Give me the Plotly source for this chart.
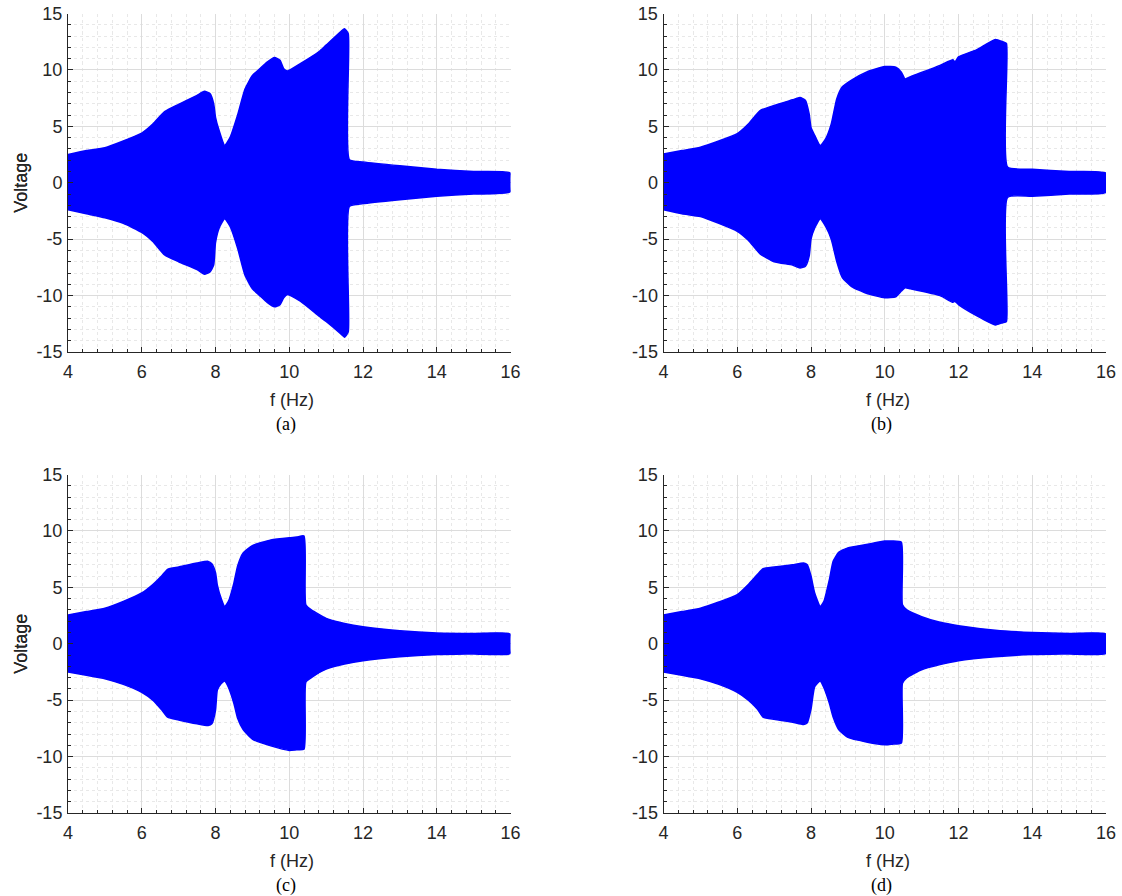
import plotly.graph_objects as go

# ---------------- data ----------------
freq_a = [4.0, 4.5, 5.0, 5.5, 6.0, 6.3, 6.62, 7.0, 7.5, 7.7, 7.85, 7.95, 8.0, 8.1, 8.25,
          8.4, 8.6, 8.8, 9.0, 9.2, 9.4, 9.6, 9.75, 9.85, 9.95, 10.3, 10.8, 11.0, 11.4, 11.5,
          11.6, 11.63, 12.0, 13.0, 14.0, 15.0, 16.0]
upper_a = [2.5, 2.85, 3.1, 3.7, 4.4, 5.2, 6.3, 6.95, 7.75, 8.1, 7.9, 7.0, 5.8, 4.6, 3.3,
           4.05, 6.0, 8.3, 9.5, 10.1, 10.7, 11.1, 10.85, 10.1, 9.9, 10.55, 11.6, 12.2, 13.4, 13.65,
           13.2, 2.05, 1.85, 1.5, 1.2, 1.0, 0.85]
lower_a = [-2.4, -2.75, -3.1, -3.6, -4.4, -5.2, -6.4, -7.0, -7.7, -8.1, -7.9, -7.3, -5.3, -4.0, -3.2,
           -3.9, -5.8, -8.2, -9.4, -10.0, -10.6, -11.0, -10.8, -10.2, -9.9, -10.5, -11.8, -12.3, -13.4, -13.7,
           -13.2, -2.1, -1.85, -1.5, -1.2, -1.0, -0.8]

freq_b = [4.0, 4.5, 5.0, 5.5, 6.0, 6.3, 6.62, 7.0, 7.5, 7.7, 7.85, 7.95, 8.0, 8.1, 8.25,
          8.4, 8.55, 8.7, 8.85, 9.1, 9.5, 10.0, 10.3, 10.45, 10.55, 10.7, 11.5, 11.85, 11.9, 12.0,
          12.5, 13.0, 13.2, 13.3, 13.33, 14.0, 15.0, 16.0]
upper_b = [2.55, 2.85, 3.15, 3.7, 4.35, 5.2, 6.4, 6.85, 7.35, 7.55, 7.3, 6.1, 4.9, 4.2, 3.3,
           3.9, 5.2, 7.45, 8.5, 9.1, 9.8, 10.3, 10.25, 9.8, 9.2, 9.4, 10.4, 10.9, 10.7, 11.15,
           11.8, 12.7, 12.5, 12.35, 1.4, 1.2, 1.0, 0.85]
lower_b = [-2.4, -2.75, -3.0, -3.6, -4.3, -5.1, -6.3, -7.0, -7.3, -7.55, -7.4, -6.5, -5.0, -4.0, -3.2,
           -3.9, -5.0, -7.0, -8.4, -9.2, -9.8, -10.2, -10.1, -9.6, -9.3, -9.4, -10.0, -10.6, -10.5, -10.8,
           -11.8, -12.6, -12.4, -12.3, -1.3, -1.2, -1.0, -0.85]

freq_c = [4.0, 4.5, 5.0, 5.5, 6.0, 6.3, 6.55, 6.7, 7.0, 7.5, 7.8, 7.9, 8.0, 8.05, 8.15,
          8.25, 8.35, 8.5, 8.6, 8.75, 9.0, 9.5, 10.0, 10.2, 10.4, 10.45, 10.6, 11.0, 11.5, 12.0,
          13.0, 14.0, 15.0, 16.0]
upper_c = [2.55, 2.85, 3.15, 3.75, 4.5, 5.25, 6.05, 6.6, 6.8, 7.15, 7.3, 7.1, 6.3, 5.2, 4.05,
           3.3, 3.75, 5.4, 6.9, 8.05, 8.7, 9.2, 9.4, 9.45, 9.55, 3.45, 3.0, 2.25, 1.8, 1.5,
           1.15, 0.95, 0.9, 0.85]
lower_c = [-2.5, -2.8, -3.1, -3.6, -4.3, -5.0, -5.9, -6.5, -6.75, -7.1, -7.25, -7.1, -5.9, -4.1, -3.55,
           -3.3, -3.85, -5.3, -6.6, -7.6, -8.45, -9.05, -9.45, -9.4, -9.35, -3.4, -3.0, -2.25, -1.8, -1.5,
           -1.15, -0.95, -0.9, -0.85]

freq_d = [4.0, 4.5, 5.0, 5.5, 6.0, 6.3, 6.55, 6.7, 7.0, 7.5, 7.8, 7.9, 8.0, 8.1, 8.25,
          8.35, 8.5, 8.6, 8.75, 9.0, 9.5, 10.0, 10.2, 10.45, 10.48, 10.6, 11.0, 11.5, 12.0, 13.0,
          14.0, 15.0, 16.0]
upper_d = [2.55, 2.85, 3.15, 3.7, 4.35, 5.25, 6.15, 6.65, 6.8, 7.0, 7.15, 7.0, 6.0, 4.5, 3.3,
           3.75, 5.7, 7.3, 8.1, 8.5, 8.8, 9.1, 9.1, 9.0, 3.45, 3.0, 2.4, 1.9, 1.6, 1.2,
           1.0, 0.9, 0.85]
lower_d = [-2.5, -2.8, -3.1, -3.6, -4.3, -5.0, -5.8, -6.5, -6.7, -6.95, -7.15, -7.0, -5.8, -3.8, -3.3,
           -3.9, -5.3, -6.5, -7.6, -8.3, -8.7, -8.95, -8.9, -8.8, -3.5, -3.0, -2.3, -1.85, -1.5, -1.15,
           -0.95, -0.9, -0.85]

captions = ["(a)", "(b)", "(c)", "(d)"]
x_title = "f (Hz)"
y_title = "Voltage"
x_ticks = [4, 6, 8, 10, 12, 14, 16]
x_ticktext = ["4", "6", "8", "10", "12", "14", "16"]
y_ticks = [-15, -10, -5, 0, 5, 10, 15]
y_ticktext = ["-15", "-10", "-5", "0", "5", "10", "15"]

panels = [(freq_a, upper_a, lower_a), (freq_b, upper_b, lower_b),
          (freq_c, upper_c, lower_c), (freq_d, upper_d, lower_d)]

# ---------------- layout geometry (screen pixels; body margin removed) ----------------
W, H = 1122, 896
col_px = [(68, 510.5), (663.5, 1106)]
row_px = [(13.5, 352), (474.5, 813)]

def px_x(p):
    return p / W

def px_y(p):
    return 1 - p / H

BLUE = "#0000ff"
AXC = "#262626"
FONT = "Liberation Sans, Arial, Helvetica, sans-serif"
SERIF = "Liberation Serif, Times New Roman, serif"
FS = 18

fig = go.Figure()
annotations = []
for i, (f, up, lo) in enumerate(panels):
    r, c = divmod(i, 2)
    n = i + 1
    xa = "x" if n == 1 else f"x{n}"
    ya = "y" if n == 1 else f"y{n}"
    xs = list(f) + list(reversed(f))
    ys = list(up) + list(reversed(lo))
    fig.add_trace(go.Scatter(x=xs, y=ys, mode="lines", fill="toself",
                             fillcolor=BLUE,
                             line=dict(color=BLUE, width=1.5, shape="spline", smoothing=0.5),
                             xaxis=xa, yaxis=ya, hoverinfo="skip", showlegend=False))
    x0, x1 = col_px[c]
    y0, y1 = row_px[r]
    axis_common = dict(
        showline=True, linecolor=AXC, linewidth=1,
        ticks="inside", tickcolor=AXC, ticklen=5, tickwidth=1,
        showgrid=True, gridcolor="#dcdcdc", gridwidth=1,
        zeroline=False, automargin=False,
        tickfont=dict(family=FONT, size=FS, color=AXC),
        fixedrange=True,
    )
    fig.layout[("xaxis" if n == 1 else f"xaxis{n}")] = dict(
        axis_common,
        domain=[px_x(x0), px_x(x1)], anchor=ya,
        range=[4, 16], tickmode="array", tickvals=x_ticks, ticktext=x_ticktext,
        minor=dict(dtick=0.4, tick0=4, ticks="inside", ticklen=3, tickcolor=AXC,
                   showgrid=True, gridcolor="#e8e8e8", griddash="dot", gridwidth=1),
        ticklabelstandoff=3,
    )
    fig.layout[("yaxis" if n == 1 else f"yaxis{n}")] = dict(
        axis_common,
        domain=[px_y(y1), px_y(y0)], anchor=xa,
        range=[-15, 15], tickmode="array", tickvals=y_ticks, ticktext=y_ticktext,
        minor=dict(dtick=1, tick0=0, ticks="inside", ticklen=3, tickcolor=AXC,
                   showgrid=True, gridcolor="#e8e8e8", griddash="dot", gridwidth=1),
        ticklabelstandoff=1,
    )
    xc = (x0 + x1) / 2
    yc = (y0 + y1) / 2
    annotations.append(dict(text=y_title, x=px_x(21), y=px_y(yc), xref="paper", yref="paper",
                            textangle=-90, showarrow=False, xanchor="center", yanchor="middle",
                            font=dict(family=FONT, size=FS, color=AXC)))
    annotations.append(dict(text=x_title, x=px_x(xc + 3), y=px_y(y1 + 48), xref="paper", yref="paper",
                            showarrow=False, xanchor="center", yanchor="middle",
                            font=dict(family=FONT, size=FS, color=AXC)))
    annotations.append(dict(text=captions[i], x=px_x(xc - 3), y=px_y(y1 + 72), xref="paper", yref="paper",
                            showarrow=False, xanchor="center", yanchor="middle",
                            font=dict(family=SERIF, size=FS, color="#000000")))

fig.update_layout(width=W, height=H, margin=dict(l=0, r=0, t=0, b=0),
                  paper_bgcolor="white", plot_bgcolor="white",
                  annotations=annotations, showlegend=False)

fig.write_html("out.html",
               config={"displayModeBar": False},
               post_script="document.body.style.margin='0px';document.body.style.overflow='hidden';")
